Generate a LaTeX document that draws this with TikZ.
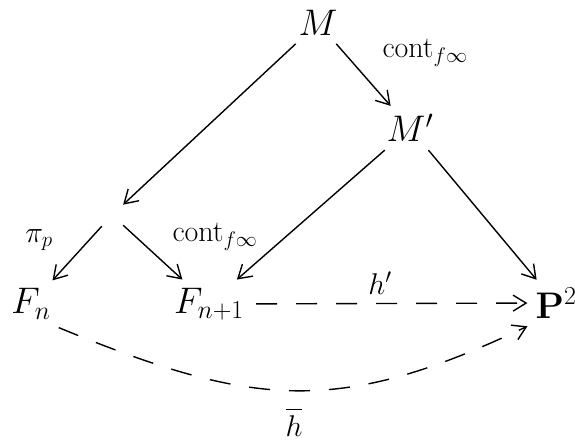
\RequirePackage{fix-cm}
\documentclass[tikz,border=0pt]{standalone}
\usepackage{amsmath}
\usetikzlibrary{arrows.meta, positioning}

\begin{document}
\begin{tikzpicture}[
    x=1pt, y=-1pt,
    obj/.style={inner sep=8pt, font=\fontsize{37}{42}\selectfont},
    lbl/.style={inner sep=0pt, font=\fontsize{30}{34}\selectfont},
    line/.style={draw, line width=1.4pt, -{Straight Barb[length=13pt, width=16pt, line width=1.4pt]}},
    dashline/.style={line, dash pattern=on 21pt off 19pt}
]
\useasboundingbox (0,0) rectangle (575,441);

% Nodes
\node[obj] (M) at (318,23) {$M$};
\node[obj] (Mp) at (410,128) {$M'$};
\node[circle, minimum size=30pt, inner sep=0pt] (v) at (112,215) {};
\node[obj] (Fn) at (31,304) {$F_n$};
\node[obj] (Fn1) at (209,304) {$F_{n+1}$};
\node[obj] (P) at (556,303) {$\mathbf{P}^2$};

% Labels
\node[lbl] (cont1) at (425,53) {$\mathrm{cont}_{f\infty}$};
\node[lbl] (pip) at (39,240) {$\pi_p$};
\node[lbl] (cont2) at (215,237) {$\mathrm{cont}_{f\infty}$};
\node[lbl] (hp) at (380,283) {$h'$};
\node[lbl] (hbar) at (294,422) {$\overline{\rule{0pt}{0.8em}h}$};

% Arrows
\draw[line] (M) -- (Mp);
\draw[line] (M) -- (v);
\draw[line] (v) -- (Fn);
\draw[line] (v) -- (Fn1);
\draw[line] (Mp) -- (Fn1);
\draw[line] (Mp) -- (P);

% Dashed maps
\draw[dashline, shorten <=4pt] (Fn1) -- (P);
\draw[dashline] (Fn.south east) .. controls +(195,80) and +(-190,90) .. (P.south west);

\end{tikzpicture}
\end{document}
